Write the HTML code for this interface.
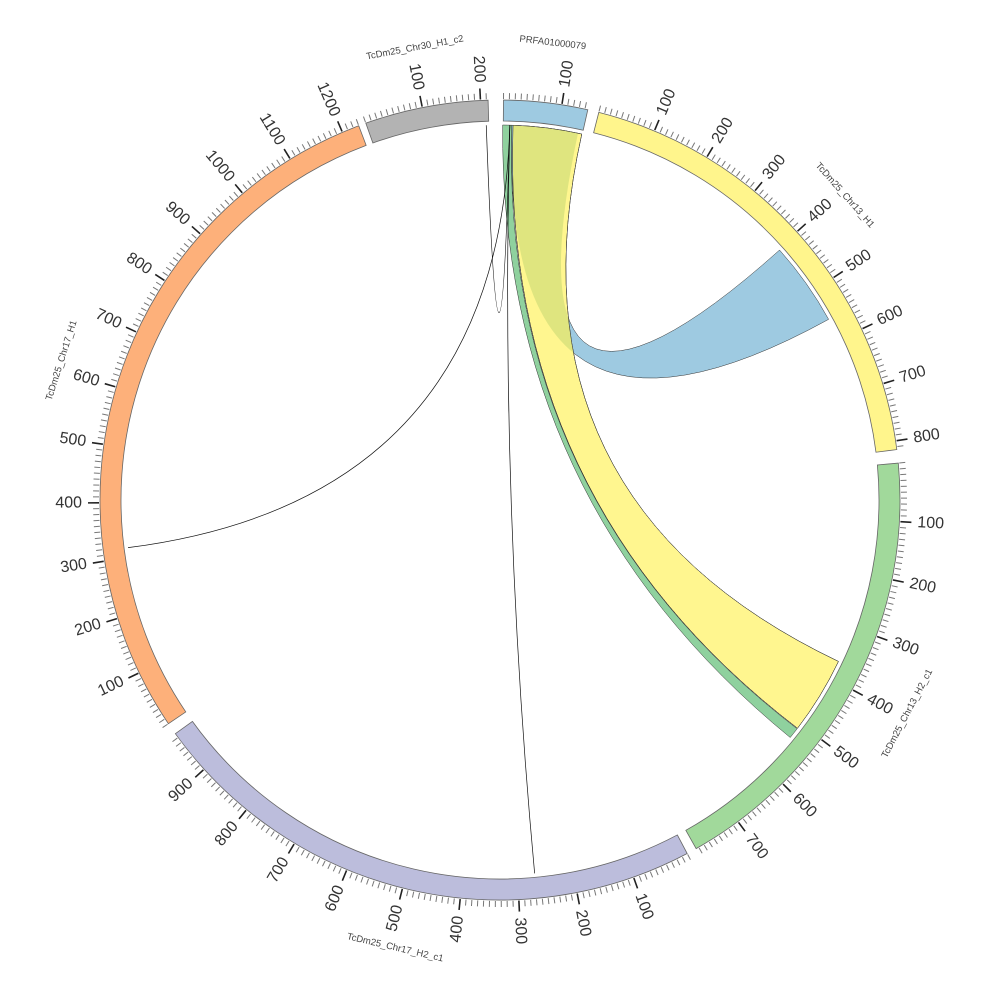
<!DOCTYPE html>
<html><head><meta charset="utf-8"><style>
html,body{margin:0;padding:0;background:#fff;}
svg{display:block;font-family:"Liberation Sans",sans-serif;}
</style></head><body>
<svg id="s" width="1000" height="1000" viewBox="0 0 1000 1000" xmlns="http://www.w3.org/2000/svg"></svg>
<script>
const NS="http://www.w3.org/2000/svg",svg=document.getElementById('s');
const cx=500,cy=500,R1=379,R2=400,RR=375,S=0.084;
function P(a,r){const t=a*Math.PI/180;return [cx+r*Math.sin(t),cy-r*Math.cos(t)];}
function add(tag,at,txt){const e=document.createElementNS(NS,tag);for(const k in at)e.setAttribute(k,at[k]);if(txt!==undefined)e.textContent=txt;svg.appendChild(e);return e;}
function f(p){return p[0].toFixed(2)+' '+p[1].toFixed(2);}
const segs=[
 {s:0.5,len:145,c:'#9ecae1',n:'PRFA01000079'},
 {s:14.3,len:815,c:'#fff58c',n:'TcDm25_Chr13_H1'},
 {s:84.7,len:785,c:'#a1d99b',n:'TcDm25_Chr13_H2_c1'},
 {s:152.1,len:978,c:'#bcbddc',n:'TcDm25_Chr17_H2_c1'},
 {s:236,len:1230,c:'#fdb07a',n:'TcDm25_Chr17_H1'},
 {s:340.4,len:213,c:'#b3b3b3',n:'TcDm25_Chr30_H1_c2'}
];
function ribbonPath(a1,a2,b1,b2){
 return 'M'+f(P(a1,RR))+' A'+RR+' '+RR+' 0 0 1 '+f(P(a2,RR))+
 ' Q'+cx+' '+cy+' '+f(P(b1,RR))+' A'+RR+' '+RR+' 0 0 1 '+f(P(b2,RR))+
 ' Q'+cx+' '+cy+' '+f(P(a1,RR))+'Z';
}
segs.forEach(g=>{
 const e=g.s+g.len*S;
 const d='M'+f(P(g.s,R2))+' A'+R2+' '+R2+' 0 0 1 '+f(P(e,R2))+' L'+f(P(e,R1))+' A'+R1+' '+R1+' 0 0 0 '+f(P(g.s,R1))+'Z';
 add('path',{d:d,fill:g.c,stroke:'#666','stroke-width':0.8});
 for(let u=0;u<=g.len;u+=10){
  const a=g.s+u*S,maj=u%100==0&&u>0;
  const p1=P(a,R2+1),p2=P(a,R2+(maj?12:7));
  add('line',{x1:p1[0],y1:p1[1],x2:p2[0],y2:p2[1],stroke:maj?'#222':'#777','stroke-width':maj?1.6:1});
  if(maj){
   const q=P(a,R2+18);let rot,anc;
   if(a<180){rot=a-90;anc='start';}else{rot=a-270;anc='end';}
   add('text',{x:q[0],y:q[1],'font-size':16,fill:'#333','text-anchor':anc,'dominant-baseline':'central',transform:'rotate('+rot.toFixed(2)+' '+q[0].toFixed(2)+' '+q[1].toFixed(2)+')'},String(u));
  }
 }
 const m=g.s+g.len*S/2,q=P(m,460);let rot=(m>90&&m<270)?m-180:m;
 add('text',{x:q[0],y:q[1],'font-size':9.5,fill:'#444','text-anchor':'middle','dominant-baseline':'central',transform:'rotate('+rot.toFixed(2)+' '+q[0].toFixed(2)+' '+q[1].toFixed(2)+')'},g.n);
});
const blue=ribbonPath(1.8,12,48.2,61.2);
const yel=ribbonPath(2,12.6,115.5,127.5);
add('path',{d:blue,fill:'#9ecae1',stroke:'#333','stroke-width':0.5});
add('path',{d:ribbonPath(0.4,1.8,127.6,129.3),fill:'#8fd19e',stroke:'#333','stroke-width':0.5});
add('path',{d:yel,fill:'#fff68f',stroke:'#333','stroke-width':0.5});
const cp=add('clipPath',{id:'cy'});const cpp=document.createElementNS(NS,'path');cpp.setAttribute('d',yel);cp.appendChild(cpp);
add('path',{d:blue,fill:'#dfe57f','clip-path':'url(#cy)'});
add('path',{d:yel,fill:'none',stroke:'#333','stroke-width':0.5});
[[262.7],[357.9],[174.7]].forEach(t=>{
 const a=P(1.5,RR),b=P(t[0],RR);
 add('path',{d:'M'+f(a)+' Q'+cx+' '+cy+' '+f(b),fill:'none',stroke:'#111','stroke-width':0.7});
});
</script>
</body></html>
